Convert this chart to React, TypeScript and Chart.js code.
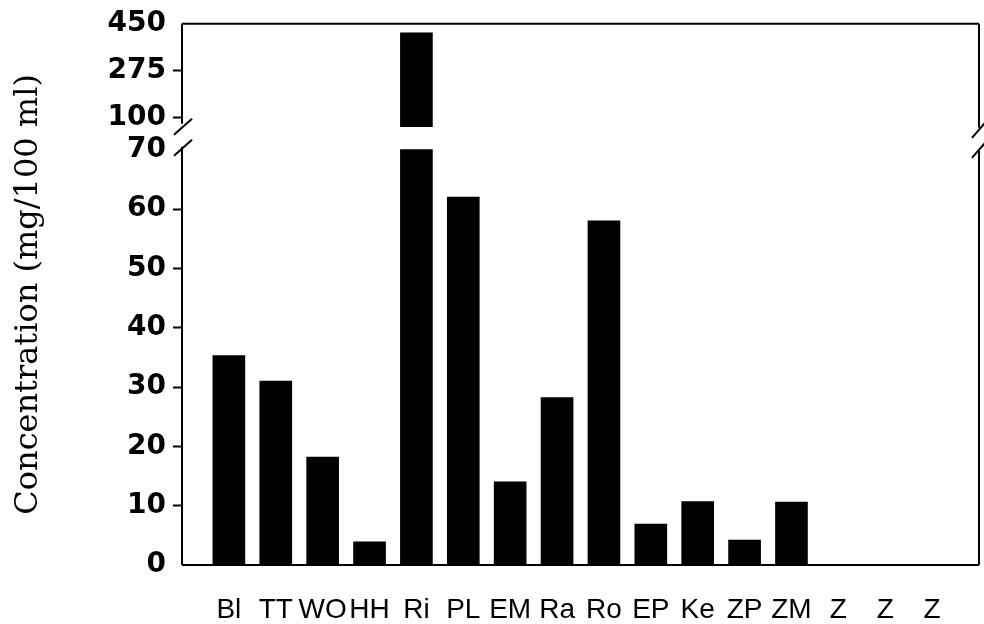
import React, { useEffect, useRef } from "react";
import { Chart, registerables } from "chart.js";

Chart.register(...registerables);

// ---- data ----
const categories = ["Bl", "TT", "WO", "HH", "Ri", "PL", "EM", "Ra", "Ro", "EP", "Ke", "ZP", "ZM", "Z", "Z", "Z"];
const concentrations: (number | null)[] = [35.3, 31, 18.2, 3.9, 416, 62, 14, 28.2, 58, 6.9, 10.7, 4.2, 10.6, null, null, null];
const lowerTicks = [0, 10, 20, 30, 40, 50, 60, 70];
const upperTicks = [100, 275, 450];
const lowerRange = [0, 72];
const upperRange = [25, 450];
const lowerCap = 70; // lower panel ends here
const upperBase = 66.5; // upper segment of broken bar starts here
const hiddenTickValues = [0, 70, 450];
const yTitle = "Concentration (mg/100 ml)";

// ---- layout constants ----
const W = 984;
const H = 624;
const AREA_LEFT = 182;
const TITLE_SIZE = 32;
const TITLE_PAD = 9;
const TITLE_BOX = TITLE_SIZE * 1.2 + TITLE_PAD * 2;

const framePlugin = {
  id: "brokenFrame",
  afterDatasetsDraw(chart: any) {
    const { ctx, chartArea } = chart;
    const { left: L, right: R, top: T, bottom: B } = chartArea;
    const yB = chart.scales.yHigh.bottom;
    ctx.save();
    ctx.strokeStyle = "#000";
    ctx.lineWidth = 2;
    ctx.lineCap = "butt";
    const line = (x1: number, y1: number, x2: number, y2: number) => {
      ctx.beginPath();
      ctx.moveTo(x1, y1);
      ctx.lineTo(x2, y2);
      ctx.stroke();
    };
    line(L, T, R, T);
    line(L, B, R, B);
    line(L, T, L, yB - 14);
    line(L, yB + 9, L, B);
    line(R, T, R, yB - 10);
    line(R, yB + 13, R, B);
    // break marks
    line(L - 8, yB - 3, L + 10, yB - 19);
    line(L - 8, yB + 18, L + 10, yB + 2);
    line(R - 7, yB, R + 6, yB - 15);
    line(R - 7, yB + 20, R + 6, yB + 5);
    ctx.restore();
  },
};

export default function App() {
  const ref = useRef<HTMLCanvasElement | null>(null);

  useEffect(() => {
    if (!ref.current) return;
    const lowerData = concentrations.map((v, i) => ({ x: i, y: v === null ? null : Math.min(v, lowerCap) }));
    const upperData = concentrations
      .map((v, i) => (v !== null && v > lowerCap ? { x: i, y: [upperBase, v] } : null))
      .filter((d) => d !== null);

    const tickWidth = (c: any) => (c.tick && hiddenTickValues.includes(c.tick.value) ? 0 : 2);
    const yCommon = {
      position: "left" as const,
      stack: "y",
      border: { display: false },
      grid: {
        display: true,
        drawOnChartArea: false,
        drawTicks: true,
        tickLength: 9,
        tickWidth,
        tickColor: "#000",
        color: "#000",
      },
      ticks: {
        color: "#000",
        padding: 7,
        autoSkip: false,
        font: { family: "DejaVu Sans", size: 28, weight: "bold" as const },
      },
      afterFit: (s: any) => {
        s.width = AREA_LEFT - TITLE_BOX;
      },
    };

    const chart = new Chart(ref.current, {
      type: "bar",
      data: {
        datasets: [
          {
            data: lowerData as any,
            yAxisID: "yLow",
            backgroundColor: "#000",
            borderWidth: 0,
            barThickness: 32,
            grouped: false,
          },
          {
            data: upperData as any,
            yAxisID: "yHigh",
            backgroundColor: "#000",
            borderWidth: 0,
            barThickness: 32,
            grouped: false,
          },
        ],
      },
      options: {
        animation: false,
        responsive: false,
        layout: { padding: { top: 23, right: 5, bottom: 0, left: 0 } },
        plugins: {
          legend: { display: false },
          tooltip: { enabled: false },
          title: {
            display: true,
            text: yTitle,
            position: "left",
            fullSize: false,
            color: "#000",
            padding: TITLE_PAD,
            font: { family: "DejaVu Serif", size: TITLE_SIZE, weight: "normal" },
          },
        },
        scales: {
          x: {
            type: "linear",
            offset: false,
            min: -1,
            max: categories.length,
            grid: { display: false, drawTicks: false },
            border: { display: false },
            ticks: {
              stepSize: 1,
              autoSkip: false,
              maxRotation: 0,
              minRotation: 0,
              padding: 28,
              color: "#000",
              font: { family: "Liberation Sans", size: 28 },
              callback: (v: any) => (Number.isInteger(v) && categories[v] !== undefined ? categories[v] : ""),
            },
            afterFit: (s: any) => {
              s.height = H - 565;
              s.paddingLeft = 0;
              s.paddingRight = 0;
            },
          },
          yHigh: {
            ...yCommon,
            type: "linear",
            weight: 1,
            stackWeight: (upperRange[1] - upperRange[0]) * 0.2686,
            min: upperRange[0],
            max: upperRange[1],
            afterBuildTicks: (s: any) => {
              s.ticks = upperTicks.map((v) => ({ value: v }));
            },
          },
          yLow: {
            ...yCommon,
            type: "linear",
            weight: 0,
            stackWeight: (lowerRange[1] - lowerRange[0]) * 5.94,
            min: lowerRange[0],
            max: lowerRange[1],
            afterBuildTicks: (s: any) => {
              s.ticks = lowerTicks.map((v) => ({ value: v }));
            },
          },
        } as any,
      },
      plugins: [framePlugin],
    });
    return () => chart.destroy();
  }, []);

  return (
    <div style={{ position: "fixed", left: 0, top: 0, width: W, height: H, background: "#fff" }}>
      <canvas ref={ref} width={W} height={H} style={{ display: "block" }} />
    </div>
  );
}
